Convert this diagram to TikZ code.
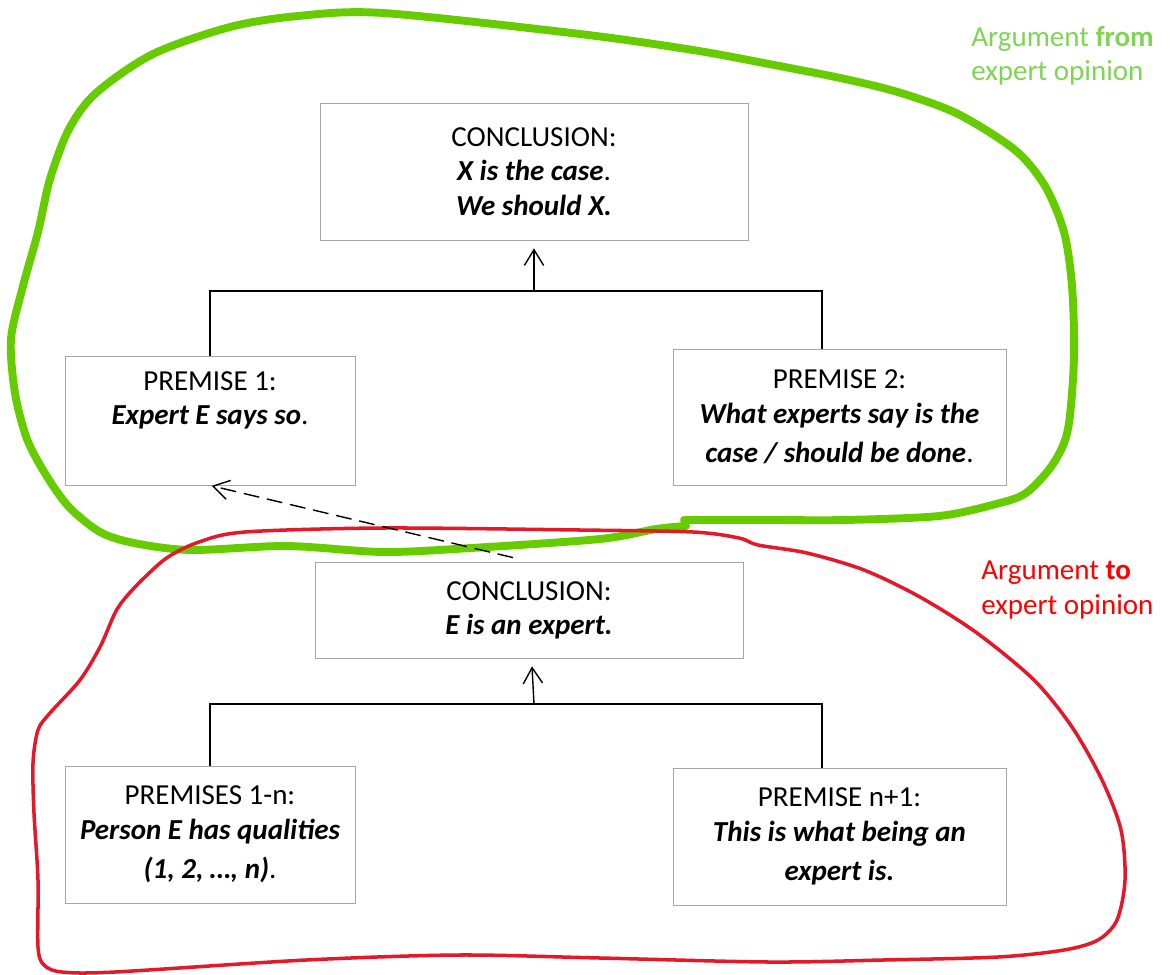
\documentclass[tikz,border=0pt]{standalone}
\usepackage{fontspec}
\setmainfont{Carlito}
\usetikzlibrary{arrows.meta}
\definecolor{loopgreen}{RGB}{102,204,0}
\definecolor{labelgreen}{RGB}{128,212,84}
\definecolor{loopred}{RGB}{228,24,40}
\definecolor{labelred}{RGB}{255,0,0}
\newcommand{\claim}[1]{{\bfseries\itshape #1}}

\begin{document}
\begin{tikzpicture}[x=0.02cm,y=-0.02cm,>={Straight Barb[length=9pt,width=11pt]}]
  \tikzstyle{box}=[draw=black!35,line width=0.5pt,align=center,inner sep=0pt,font=\fontsize{16.5}{19.5}\selectfont]
  \tikzstyle{link}=[line width=0.8pt]
  \tikzstyle{tag}=[anchor=west,align=left,inner sep=0pt,font=\fontsize{16.5}{19.5}\selectfont]
  \useasboundingbox (0,0) rectangle (1173,974);
  % hand-drawn loops
  \draw[loopgreen,line width=4.5pt,line cap=round,line join=round] plot[smooth] coordinates {
    (684,520) (769,520) (845,520) (939,516) (996,504) (1026,493) (1053,464) (1068,429)
    (1074,357) (1072,286) (1064,232) (1045,186) (1015,150) (958,114) (901,93) (845,79)
    (769,64) (693,50) (580,34) (383,13) (298,16) (230,27) (153,54) (96,93) (69,129)
    (50,179) (38,232) (23,286) (11,339) (15,393) (27,439) (46,475) (69,507) (100,532)
    (134,543) (191,550) (287,546) (383,552) (471,548) (600,539) (656,529) (686,526)};
  \draw[loopred,line width=2pt,line cap=round] plot[smooth cycle] coordinates {
    (383,528) (245,532) (199,542) (168,557) (145,577) (126,597) (115,613) (100,647)
    (80,680) (50,713) (38,730) (33,763) (34,813) (38,880) (38,947) (44,965) (62,972)
    (115,972) (306,960) (459,955) (600,958) (769,962) (883,960) (998,957) (1064,950)
    (1098,940) (1117,920) (1125,880) (1121,830) (1102,780) (1072,727) (1034,680)
    (977,633) (920,597) (864,570) (807,553) (758,545) (739,538) (693,532) (580,530)};
  \node[tag,text=labelgreen] (fromtag) at (971,56) {Argument \textbf{from}\\expert opinion};
  \node[tag,text=labelred] (totag) at (981,590) {Argument \textbf{to}\\expert opinion};
  % argument from expert opinion
  \node[box,minimum width=8.56cm,minimum height=2.74cm] (concA) at (534,171.5)
    {CONCLUSION:\\ \claim{X is the case}.\\ \claim{We should X.}};
  \node[box,minimum width=5.8cm,minimum height=2.58cm] (premA) at (210,420.5)
    {PREMISE 1:\\ \claim{Expert E says so}.\\ \strut};
  \node[box,minimum width=6.66cm,minimum height=2.72cm] (premB) at (839.5,417)
    {PREMISE 2:\\ \claim{What experts say is the}\\[3pt] \claim{case / should be done}.};
  \coordinate (barA) at (534,291);
  \draw[link] (premA.north) |- (barA) -| ([xshift=-0.35cm]premB.north);
  \draw[link,->,shorten >=4.5pt] (barA) -- (concA);
  % argument to expert opinion
  \node[box,minimum width=8.56cm,minimum height=1.92cm] (concB) at (529,610)
    {CONCLUSION:\\ \claim{E is an expert.}};
  \node[box,minimum width=5.8cm,minimum height=2.74cm] (premC) at (210,834.5)
    {PREMISES 1-n:\\ \claim{Person E has qualities}\\[3pt] \claim{(1, 2, \dots, n)}.};
  \node[box,minimum width=6.66cm,minimum height=2.74cm] (premD) at (839.5,836.5)
    {PREMISE n+1:\\ \claim{This is what being an}\\[3pt] \claim{expert is.}};
  \coordinate (barB) at (534,704);
  \draw[link] (premC.north) |- (barB) -| ([xshift=-0.35cm]premD.north);
  \draw[link,->,shorten >=4.5pt] (barB) -- (concB);
  % E being an expert feeds premise 1
  \draw[link,->,dash pattern=on 9pt off 4.5pt,shorten >=1pt] ([xshift=-0.32cm,yshift=0.08cm]concB.north) -- (premA.south);
\end{tikzpicture}
\end{document}
